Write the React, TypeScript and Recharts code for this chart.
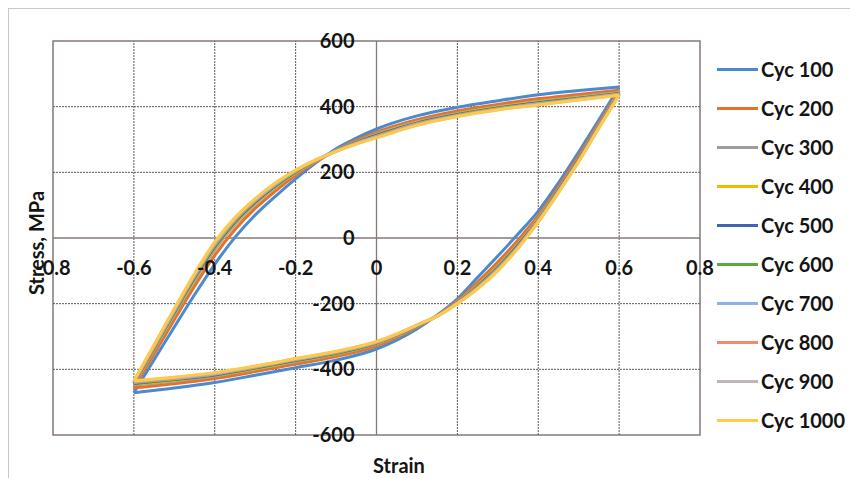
import React from "react";
import {
  LineChart,
  Line,
  XAxis,
  YAxis,
  ReferenceLine,
  ReferenceDot,
  ReferenceArea,
} from "recharts";

// strain path of one loop: loading branch up to +0.6, then unloading back to -0.6
const loopStrain = [
  -0.6, -0.55, -0.5, -0.45, -0.4, -0.35, -0.3, -0.25, -0.2, -0.15, -0.1, -0.05, 0, 0.1, 0.2, 0.3, 0.4, 0.5, 0.6,
  0.55, 0.5, 0.45, 0.4, 0.35, 0.3, 0.25, 0.2, 0.15, 0.1, 0.05, 0, -0.1, -0.2, -0.3, -0.4, -0.5, -0.6,
];
const PEAK_INDEX = 18; // loopStrain[18] = 0.6, where loading turns to unloading

// stress (MPa) along loopStrain
const cyc100 = [
  -471, -371, -271, -173, -80, 2, 70, 127, 180, 229, 272, 304, 332, 372, 398, 418, 436, 449, 460,
  360, 262, 168, 82, 12, -55, -120, -185, -235, -277, -311, -338, -372, -395, -418, -440, -457, -471,
];
const cyc200 = [
  -457, -353, -249, -147, -53, 26, 90, 143, 191, 232, 267, 297, 322, 360, 387, 407, 424, 437, 450,
  350, 250, 156, 68, -6, -73, -134, -191, -236, -272, -303, -329, -361, -384, -407, -428, -444, -457,
];
const cyc300 = [
  -448, -341, -235, -131, -36, 41, 103, 154, 198, 234, 266, 293, 317, 354, 380, 400, 416, 430, 444,
  344, 242, 148, 60, -17, -84, -143, -195, -237, -269, -299, -323, -354, -377, -400, -420, -436, -448,
];
const cyc400 = [
  -445, -338, -231, -126, -31, 45, 106, 157, 199, 235, 266, 292, 315, 352, 378, 398, 414, 428, 442,
  342, 240, 146, 58, -20, -87, -145, -196, -237, -268, -297, -321, -353, -375, -398, -418, -433, -445,
];
const cyc500 = [
  -443, -335, -227, -122, -27, 49, 109, 159, 201, 236, 265, 291, 313, 350, 376, 396, 412, 426, 440,
  340, 239, 145, 55, -22, -90, -147, -197, -237, -268, -296, -320, -351, -373, -396, -417, -431, -443,
];
const cyc600 = [
  -441, -333, -225, -119, -24, 52, 112, 161, 202, 236, 265, 290, 311, 348, 375, 395, 410, 425, 439,
  339, 237, 143, 54, -25, -92, -149, -197, -237, -267, -295, -319, -350, -372, -395, -415, -430, -441,
];
const cyc700 = [
  -439, -331, -222, -116, -20, 55, 114, 163, 204, 237, 265, 289, 309, 347, 373, 393, 409, 423, 438,
  338, 236, 142, 52, -27, -95, -151, -198, -238, -266, -294, -318, -348, -370, -393, -414, -428, -439,
];
const cyc800 = [
  -438, -329, -219, -113, -17, 57, 116, 165, 205, 237, 264, 288, 308, 346, 372, 392, 407, 422, 437,
  337, 234, 140, 51, -28, -96, -152, -199, -238, -266, -294, -317, -347, -369, -392, -412, -427, -438,
];
const cyc900 = [
  -436, -327, -217, -111, -15, 60, 118, 166, 206, 238, 264, 287, 306, 344, 371, 391, 406, 421, 436,
  336, 233, 139, 49, -30, -98, -154, -199, -238, -265, -293, -316, -346, -368, -391, -411, -425, -436,
];
const cyc1000 = [
  -435, -325, -215, -108, -12, 62, 120, 168, 207, 238, 264, 286, 305, 343, 370, 390, 405, 420, 435,
  335, 232, 138, 48, -32, -100, -155, -200, -238, -265, -292, -315, -345, -367, -390, -410, -424, -435,
];

const seriesNames = ["Cyc 100", "Cyc 200", "Cyc 300", "Cyc 400", "Cyc 500", "Cyc 600", "Cyc 700", "Cyc 800", "Cyc 900", "Cyc 1000"];
const seriesValues = [cyc100, cyc200, cyc300, cyc400, cyc500, cyc600, cyc700, cyc800, cyc900, cyc1000];
const seriesColors = ["#4a8bd0", "#e8702a", "#a09c9a", "#efbb00", "#3f64b4", "#5fa83a", "#8db3e2", "#f4896b", "#bdb7b5", "#ffc94a"];

const xTicks = [-0.8, -0.6, -0.4, -0.2, 0, 0.2, 0.4, 0.6, 0.8];
const yTicks = [-600, -400, -200, 0, 200, 400, 600];

const FONT = "Lato, 'Open Sans', sans-serif";
const labelStyle = { fill: "#141414", fontSize: 20, fontWeight: 700, fontFamily: FONT };
const gridColor = "#625753";
const axisColor = "#857a76";

// each loop is split into its loading and unloading half so both can be drawn
// with a monotone curve (x ascending in both halves)
const series = seriesNames.map((name, i) => {
  const pts = loopStrain.map((x, j) => ({ x, y: seriesValues[i][j] }));
  return {
    name,
    color: seriesColors[i],
    up: pts.slice(0, PEAK_INDEX + 1),
    down: pts.slice(PEAK_INDEX).reverse(),
  };
});

const fmtX = (v: number) => (v === 0 ? "0" : v.toFixed(1));

export default function App() {
  return (
    <div
      style={{
        position: "relative",
        width: 850,
        height: 470,
        boxSizing: "border-box",
        borderTop: "1px solid #c9c9c9",
        borderLeft: "1px solid #c9c9c9",
        background: "#fff",
        fontFamily: FONT,
      }}
    >
      <LineChart width={849} height={469} margin={{ top: 32, right: 158, bottom: 43, left: 44 }}>
        <XAxis
          type="number"
          dataKey="x"
          domain={[-0.8, 0.8]}
          ticks={xTicks}
          tick={false}
          tickLine={false}
          axisLine={false}
          height={0}
          allowDataOverflow
        />
        <YAxis
          type="number"
          domain={[-600, 600]}
          ticks={yTicks}
          tick={false}
          tickLine={false}
          axisLine={false}
          width={0}
          allowDataOverflow
        />
        {/* grid */}
        {xTicks.filter((t) => t !== 0 && Math.abs(t) !== 0.8).map((t) => (
          <ReferenceLine key={"gx" + t} x={t} stroke={gridColor} strokeDasharray="2 1" />
        ))}
        {yTicks.filter((t) => t !== 0 && Math.abs(t) !== 600).map((t) => (
          <ReferenceLine key={"gy" + t} y={t} stroke={gridColor} strokeDasharray="2 1" />
        ))}
        <ReferenceArea x1={-0.8} x2={0.8} y1={-600} y2={600} fill="none" fillOpacity={0} stroke={axisColor} strokeWidth={1.5} />
        <ReferenceLine x={0} stroke={axisColor} strokeWidth={1.3} />
        <ReferenceLine y={0} stroke={axisColor} strokeWidth={1.3} />
        {series.map((s) => [
          <Line
            key={s.name + "-up"}
            data={s.up}
            dataKey="y"
            name={s.name}
            type="monotone"
            stroke={s.color}
            strokeWidth={3}
            dot={false}
            isAnimationActive={false}
          />,
          <Line
            key={s.name + "-down"}
            data={s.down}
            dataKey="y"
            name={s.name}
            type="monotone"
            stroke={s.color}
            strokeWidth={3}
            dot={false}
            legendType="none"
            isAnimationActive={false}
          />,
        ])}
        {xTicks.map((t) => (
          <ReferenceDot
            key={"xt" + t}
            x={t}
            y={0}
            r={0}
            fill="none"
            stroke="none"
            label={{ value: fmtX(t), position: "bottom", offset: 23, ...labelStyle }}
          />
        ))}
        {yTicks.map((t) => (
          <ReferenceDot
            key={"yt" + t}
            x={0}
            y={t}
            r={0}
            fill="none"
            stroke="none"
            label={{ value: String(t), position: "left", offset: 22, ...labelStyle }}
          />
        ))}
      </LineChart>

      {/* axis titles */}
      <div
        style={{
          position: "absolute",
          left: 27,
          top: 234,
          transform: "translate(-50%, -50%) rotate(-90deg)",
          whiteSpace: "nowrap",
          fontSize: 20,
          fontWeight: 700,
          color: "#141414",
        }}
      >
        Stress, MPa
      </div>
      <div
        style={{
          position: "absolute",
          left: 390,
          top: 456,
          transform: "translate(-50%, -50%)",
          whiteSpace: "nowrap",
          fontSize: 20,
          fontWeight: 700,
          color: "#141414",
        }}
      >
        Strain
      </div>

      {/* legend */}
      <div style={{ position: "absolute", left: 708, top: 41 }}>
        {series.map((s) => (
          <div key={s.name} style={{ display: "flex", alignItems: "center", height: 39 }}>
            <div style={{ width: 41, height: 3, background: s.color, marginRight: 3 }} />
            <span style={{ fontSize: 20, fontWeight: 700, color: "#141414", lineHeight: "39px" }}>{s.name}</span>
          </div>
        ))}
      </div>
    </div>
  );
}
